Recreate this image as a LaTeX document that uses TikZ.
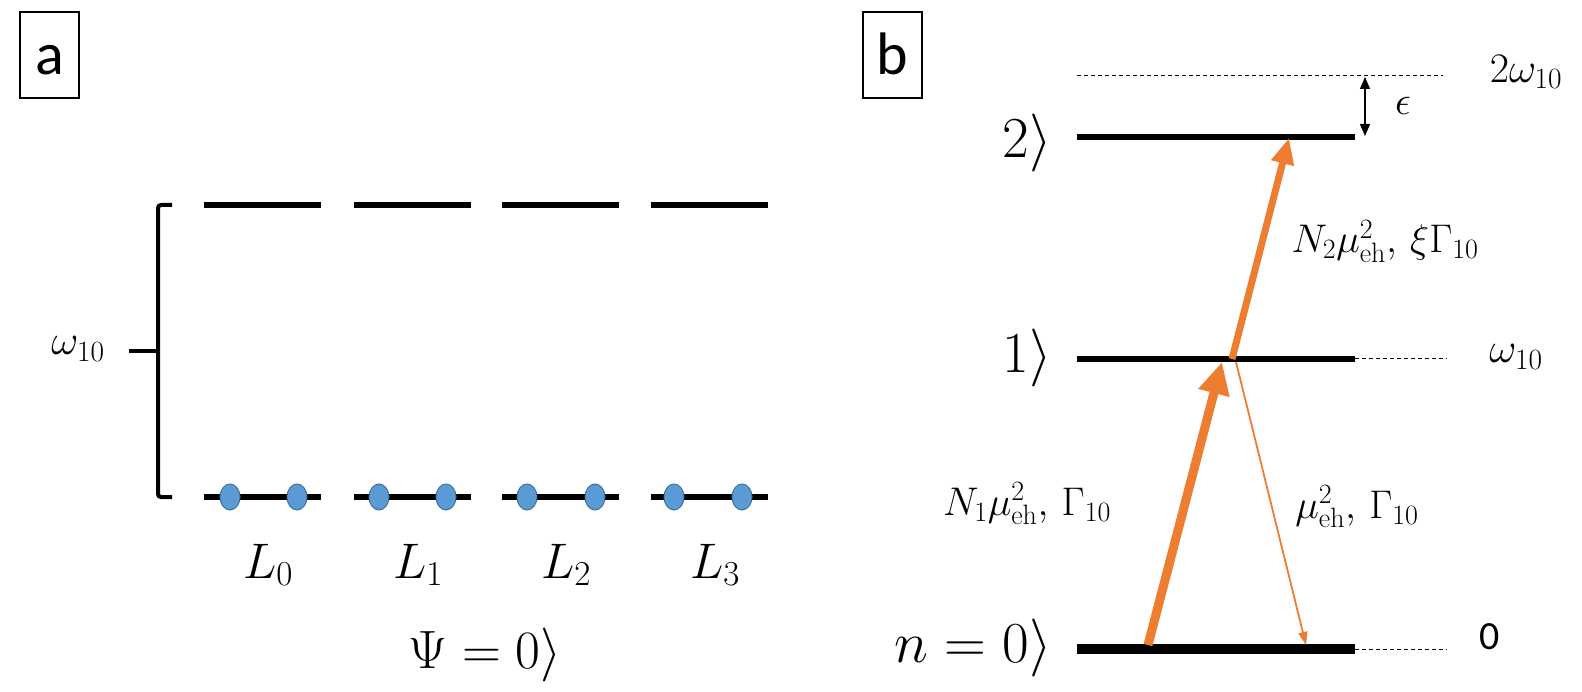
\RequirePackage{fix-cm}
\documentclass[tikz,border=0pt]{standalone}
\usepackage{fontspec}
\newfontfamily\carlito{Carlito}
\usetikzlibrary{arrows.meta,shapes.geometric}
\definecolor{orng}{HTML}{ED7D31}
\definecolor{dotfill}{HTML}{5B9BD5}
\definecolor{dotdraw}{HTML}{41719C}
\begin{document}
\begin{tikzpicture}[x=1pt,y=-1pt,
  panellabel/.style={draw, line width=2pt, minimum width=59pt, minimum height=86pt, inner sep=0pt,
    text height=40pt, text depth=0pt, font=\carlito\fontsize{60}{60}\selectfont},
  alevel/.style={line width=6pt},
  blevel/.style={line width=6pt},
  guide/.style={line width=1pt, dash pattern=on 4pt off 3pt},
  dotnode/.style={ellipse, minimum width=20pt, minimum height=26pt, inner sep=0pt, fill=dotfill, draw=dotdraw, line width=1pt},
  bracket/.style={line width=4pt, rounded corners=3pt},
  biglbl/.style={font=\fontsize{50}{60}\selectfont, anchor=base, inner sep=0pt},
  statelbl/.style={font=\fontsize{58}{66}\selectfont, anchor=base east, inner sep=0pt},
  translbl/.style={font=\fontsize{40}{48}\selectfont, anchor=base, inner sep=0pt},
  vallbl/.style={font=\fontsize{42}{50}\selectfont, inner sep=0pt},
  thickarrow/.style={orng, line width=9pt, -{Triangle[length=32pt,width=30pt]}},
  midarrow/.style={orng, line width=7pt, -{Triangle[length=26pt,width=22pt]}},
  thinarrow/.style={orng, line width=1.8pt, -{Triangle[length=13pt,width=9pt]}},
  epsarrow/.style={line width=1.3pt, {Triangle[length=12pt,width=10pt]}-{Triangle[length=12pt,width=10pt]}}
]
\useasboundingbox (0,0) rectangle (1582,692);

% ---------- panel a ----------
\node[panellabel] (pa) at (49.5,55) {a};

\foreach \i/\xa/\xb in {0/204/321,1/354/471,2/502/619,3/651/768}{
  \coordinate (ta\i) at (\xa,205);
  \coordinate (tb\i) at (\xb,205);
  \coordinate (ba\i) at (\xa,497);
  \coordinate (bb\i) at (\xb,497);
  \draw[alevel] (ta\i) -- (tb\i);
  \draw[alevel] (ba\i) -- (bb\i);
}
\foreach \n/\x in {d0/230,d1/297,d2/379,d3/446,d4/527,d5/595,d6/674,d7/742}{
  \node[dotnode] (\n) at (\x,497) {};
}

\coordinate (brt) at (172,205);
\coordinate (brb) at (172,497);
\coordinate (brm) at (158,351);
\coordinate (brl) at (129,351);
\draw[bracket] (brt) -- (158,205) -- (158,497) -- (brb);
\draw[line width=4pt] (brl) -- (brm);
\node[vallbl] (wa) at (78,349) {$\omega_{10}$};

\node[biglbl] (l0) at (268,578) {$L_0$};
\node[biglbl] (l1) at (418,578) {$L_1$};
\node[biglbl] (l2) at (566,578) {$L_2$};
\node[biglbl] (l3) at (715,578) {$L_3$};
\node[biglbl, font=\fontsize{54}{62}\selectfont] (psi) at (485,668) {$\Psi=0\rangle$};

% ---------- panel b ----------
\node[panellabel] (pb) at (892.5,55) {b};

\coordinate (l2a) at (1077,137); \coordinate (l2b) at (1355,137);
\coordinate (l1a) at (1077,359); \coordinate (l1b) at (1355,359);
\coordinate (l0a) at (1077,649); \coordinate (l0b) at (1355,649);
\draw[blevel] (l2a) -- (l2b);
\draw[blevel] (l1a) -- (l1b);
\draw[line width=10pt] (l0a) -- (l0b);

\coordinate (ga) at (1077,76); \coordinate (gb) at (1443,76);
\coordinate (g1) at (1447,359);
\coordinate (g0) at (1447,649);
\draw[guide] (ga) -- (gb);
\draw[guide] (l1b) -- (g1);
\draw[guide] (l0b) -- (g0);

\coordinate (ea) at (1365,77); \coordinate (eb) at (1365,136);
\draw[epsarrow] (ea) -- (eb);
\node[vallbl, font=\fontsize{40}{48}\selectfont] (eps) at (1403,106) {$\epsilon$};

\node[vallbl] (w2) at (1526,72) {$2\omega_{10}$};
\node[vallbl] (w1) at (1516,357) {$\omega_{10}$};
\node[vallbl, font=\carlito\fontsize{40}{48}\selectfont] (w0) at (1490,637) {0};

\node[statelbl] (s2) at (1052,158) {$2\rangle$};
\node[statelbl] (s1) at (1052,373) {$1\rangle$};
\node[statelbl] (s0) at (1052,662) {$n=0\rangle$};

\coordinate (a1s) at (1148,645); \coordinate (a1e) at (1222,362);
\coordinate (a2s) at (1232,359); \coordinate (a2e) at (1289,138);
\coordinate (a3s) at (1236,362); \coordinate (a3e) at (1306,645);
\draw[thickarrow] (a1s) -- (a1e);
\draw[midarrow] (a2s) -- (a2e);
\draw[thinarrow] (a3s) -- (a3e);

\node[translbl] (t1) at (1027,515) {$N_1\mu_{\mathrm{eh}}^2,\,\Gamma_{10}$};
\node[translbl] (t3) at (1357,518) {$\mu_{\mathrm{eh}}^2,\,\Gamma_{10}$};
\node[translbl] (t2) at (1385,253) {$N_2\mu_{\mathrm{eh}}^2,\,\xi\Gamma_{10}$};
\end{tikzpicture}
\end{document}
